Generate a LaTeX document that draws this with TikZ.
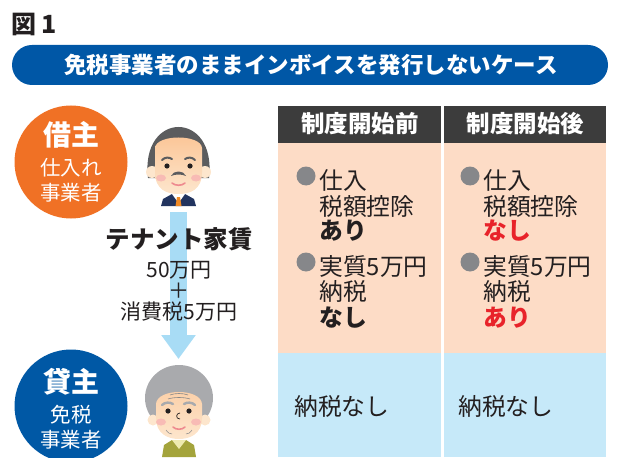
\documentclass[tikz,border=0pt]{standalone}
\usepackage{fontspec}
\setmainfont{Noto Sans CJK JP}
\usetikzlibrary{arrows.meta,shapes.geometric}
\definecolor{inkc}{HTML}{231F20}
\definecolor{bandblue}{HTML}{0057A6}
\definecolor{borrowerc}{HTML}{F07125}
\definecolor{lenderc}{HTML}{0058A5}
\definecolor{headc}{HTML}{3C3C3C}
\definecolor{peachc}{HTML}{FDDCC6}
\definecolor{skyc}{HTML}{C6E9F9}
\definecolor{flowc}{HTML}{A8DCF5}
\definecolor{redc}{HTML}{E8232A}
\definecolor{dotc}{HTML}{86878A}
\definecolor{hairdark}{HTML}{5B5C5E}
\definecolor{hairlight}{HTML}{A9AAAD}
\definecolor{skinlo}{HTML}{FDE6CD}
\definecolor{skinhi}{HTML}{FBC596}
\definecolor{cheekc}{HTML}{F7B3B3}
\definecolor{suitc}{HTML}{22345F}
\definecolor{tiec}{HTML}{F08A24}
\definecolor{sweaterc}{HTML}{A4A43C}
\definecolor{collarc}{HTML}{EEEBB0}
\definecolor{mouthc}{HTML}{EE8A8F}
\tikzset{
  txt/.style={inner sep=0pt, text=inkc},
  bodytxt/.style={txt, anchor=west, font=\fontsize{23.8}{23.8}\selectfont},
  boldbody/.style={bodytxt, font=\fontsize{23.8}{23.8}\selectfont\bfseries},
  circlabel/.style={inner sep=0pt, text=white},
  bulletdot/.style={fill=dotc},
  hdr/.style={fill=headc},
  hdrtxt/.style={circlabel, font=\fontsize{23.5}{23.5}\selectfont\bfseries},
  badge/.style={circle, minimum size=113pt, inner sep=0pt},
  badgehead/.style={circlabel, font=\fontsize{28}{28}\selectfont\bfseries},
  badgesub/.style={circlabel, font=\fontsize{20.5}{20.5}\selectfont},
}
\begin{document}
\begin{tikzpicture}[x=1pt,y=-1pt]
\useasboundingbox (0,0) rectangle (636,457);

% figure number
\node[txt, anchor=west, font=\fontsize{25}{25}\selectfont\bfseries] (fig) at (11,24) {図 1};

% title band
\fill[bandblue, rounded corners=20pt] (12,45) rectangle (608,85);
\node[inner sep=0pt, text=white, font=\fontsize{22.5}{22.5}\selectfont\bfseries] (title) at (311,65) {免税事業者のままインボイスを発行しないケース};

% table: header row
\fill[hdr] (278,106) rectangle (441,143);
\fill[hdr] (444,106) rectangle (606,143);
\node[hdrtxt] (hbefore) at (360,124) {制度開始前};
\node[hdrtxt] (hafter) at (525.5,124) {制度開始後};

% table: borrower row
\fill[peachc] (278,143) rectangle (441,353);
\fill[peachc] (444,143) rectangle (606,353);
% table: lender row
\fill[skyc] (278,353) rectangle (441,457);
\fill[skyc] (444,353) rectangle (606,457);

% before column
\fill[bulletdot] (306,176) circle (9.5);
\node[bodytxt] (b1) at (319,180) {仕入};
\node[bodytxt] (b2) at (319,206) {税額控除};
\node[boldbody] (b3) at (319,231) {あり};
\fill[bulletdot] (306,262) circle (9.5);
\node[bodytxt] (b4) at (319,266) {実質5万円};
\node[bodytxt] (b5) at (319,291) {納税};
\node[boldbody] (b6) at (319,318) {なし};
\node[bodytxt] (b7) at (294,406) {納税なし};

% after column
\fill[bulletdot] (470,176) circle (9.5);
\node[bodytxt] (a1) at (483,180) {仕入};
\node[bodytxt] (a2) at (483,206) {税額控除};
\node[boldbody, text=redc] (a3) at (483,231) {なし};
\fill[bulletdot] (470,262) circle (9.5);
\node[bodytxt] (a4) at (483,266) {実質5万円};
\node[bodytxt] (a5) at (483,291) {納税};
\node[boldbody, text=redc] (a6) at (483,318) {あり};
\node[bodytxt] (a7) at (458,406) {納税なし};

% borrower badge
\node[badge, fill=borrowerc] (borrower) at (71,162) {};
\node[badgehead] at (71,135) {借主};
\node[badgesub] at (71,168) {仕入れ};
\node[badgesub] at (71,193) {事業者};

% lender badge
\node[badge, fill=lenderc] (lender) at (71,406) {};
\node[badgehead] at (71,382) {貸主};
\node[badgesub] at (71,415) {免税};
\node[badgesub] at (71,440) {事業者};

% tenant (man)
\coordinate (tenant) at (178.5,212);
\fill[hairdark] (148,178) .. controls (140,110) and (217,110) .. (209,178) -- cycle;
\fill[skinlo] (152,172) circle (6);
\fill[skinlo] (205,172) circle (6);
\shade[top color=skinhi, bottom color=skinlo]
  (155,148) .. controls (156,134) and (201,134) .. (202,148)
  -- (202,172) .. controls (202,190) and (190,194) .. (178.5,194)
  .. controls (167,194) and (155,190) .. (155,172) -- cycle;
\fill[suitc] (161,206) -- (163,199) -- (172,194) -- (185,194) -- (194,199) -- (196,206) -- cycle;
\fill[white] (172,194) -- (178.5,203) -- (185,194) -- cycle;
\fill[tiec] (177,197) -- (180,197) -- (181.5,206) -- (175.5,206) -- cycle;
\draw[hairdark, line width=2pt, line cap=round] (162,160) .. controls (165,157) and (169,157) .. (172,159);
\draw[hairdark, line width=2pt, line cap=round] (185,159) .. controls (188,157) and (192,157) .. (195,160);
\fill[inkc] (167,166) circle (2.6);
\fill[inkc] (190,166) circle (2.6);
\fill[cheekc, opacity=0.8] (161,178) ellipse [x radius=5, y radius=3.5];
\fill[cheekc, opacity=0.8] (196,178) ellipse [x radius=5, y radius=3.5];
\fill[hairdark] (171,176) .. controls (173,170) and (184,170) .. (186,176) .. controls (182,174) and (175,174) .. (171,176) -- cycle;
\draw[mouthc, line width=1.6pt, line cap=round] (172,183) .. controls (175,186) and (182,186) .. (185,183);

% landlord (woman)
\coordinate (landlord) at (178.5,359);
\fill[hairlight] (179,398) ellipse [x radius=34, y radius=33];
\fill[skinlo] (153,420) circle (5.5);
\fill[skinlo] (205,420) circle (5.5);
\shade[top color=skinhi!70!skinlo, bottom color=skinlo]
  (156,404) .. controls (157,388) and (201,388) .. (202,404)
  -- (202,418) .. controls (202,434) and (190,439) .. (179,439)
  .. controls (168,439) and (156,434) .. (156,418) -- cycle;
\fill[sweaterc] (162,457) -- (164,445) -- (172,440) -- (186,440) -- (194,445) -- (196,457) -- cycle;
\fill[collarc] (172,440) -- (179,449) -- (186,440) -- cycle;
\draw[hairlight!80!black, line width=0.6pt] (170,395) .. controls (175,393) and (183,393) .. (188,395);
\draw[hairlight!80!black, line width=0.6pt] (168,399) .. controls (174,397) and (184,397) .. (190,399);
\draw[hairlight, line width=2.4pt, line cap=round] (162,405) .. controls (165,402) and (170,402) .. (173,404);
\draw[hairlight, line width=2.4pt, line cap=round] (184,404) .. controls (187,402) and (192,402) .. (195,405);
\fill[inkc] (168,411) circle (2.6);
\fill[inkc] (189,411) circle (2.6);
\fill[cheekc, opacity=0.8] (161,422) ellipse [x radius=5, y radius=3.5];
\fill[cheekc, opacity=0.8] (196,422) ellipse [x radius=5, y radius=3.5];
\draw[inkc, line width=0.7pt] (180,413) .. controls (176,413) and (175,419) .. (180,419);
\draw[mouthc, line width=1.6pt, line cap=round] (173,427) .. controls (176,430) and (182,430) .. (185,427);
\draw[hairlight!80!black, line width=0.5pt] (166,430) .. controls (168,433) and (170,434) .. (172,434);
\draw[hairlight!80!black, line width=0.5pt] (192,430) .. controls (190,433) and (188,434) .. (186,434);

% rent payment flow
\draw[flowc, line width=17pt, -{Triangle[width=33pt, length=24pt]}] (tenant) -- (landlord);
\node[txt, font=\fontsize{24.5}{24.5}\selectfont\bfseries] (rent) at (179,239) {テナント家賃};
\node[txt, font=\fontsize{21}{21}\selectfont] (rent1) at (179,270) {50万円};
\node[txt, font=\fontsize{21}{21}\selectfont] (rent2) at (179,291) {＋};
\node[txt, font=\fontsize{21}{21}\selectfont] (rent3) at (179,312) {消費税5万円};
\end{tikzpicture}
\end{document}
